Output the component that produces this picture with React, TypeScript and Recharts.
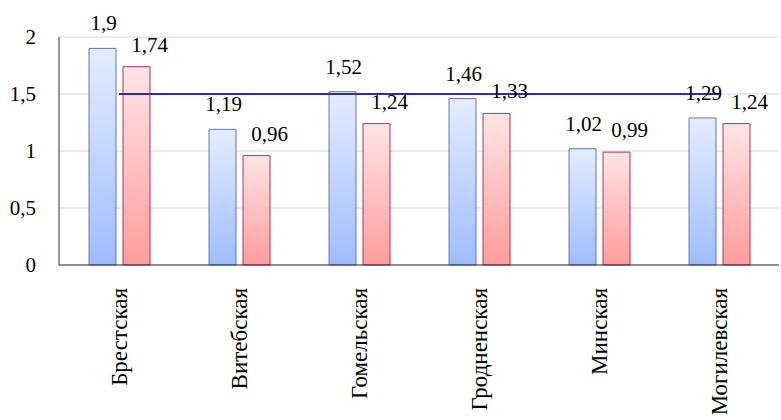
import React from 'react';
import { ComposedChart, Bar, Line, XAxis, YAxis, CartesianGrid, LabelList } from 'recharts';

const regions = ['Брестская', 'Витебская', 'Гомельская', 'Гродненская', 'Минская', 'Могилевская'];
const first = [1.9, 1.19, 1.52, 1.46, 1.02, 1.29];
const second = [1.74, 0.96, 1.24, 1.33, 0.99, 1.24];
const level = [1.5, 1.5, 1.5, 1.5, 1.5, 1.5];
const yTicks = [0, 0.5, 1, 1.5, 2];

const data = regions.map((name, i) => ({ name, a: first[i], b: second[i], level: level[i] }));

const font = 'Liberation Serif';
const fmt = (v: number) => String(v).replace('.', ',');

// some style sheet keeps overriding the font, so force it inline
const serif = (el: SVGTextElement | null) => {
  if (el) el.style.setProperty('font-family', "'Liberation Serif', serif", 'important');
};

const CategoryTick = ({ x, y, payload }: any) => (
  <text
    ref={serif}
    transform={`translate(${x},${y + 23}) rotate(-90)`}
    textAnchor="end"
    dy="0.35em"
    fontFamily={font}
    fontSize={23}
    fill="#000"
  >
    {payload.value}
  </text>
);

const ValueTick = ({ x, y, payload }: any) => (
  <text ref={serif} x={x} y={y} dy="0.35em" textAnchor="end" fontFamily={font} fontSize={21} fill="#000">
    {fmt(payload.value)}
  </text>
);

const labelA = ({ x, y, width, value }: any) => (
  <text ref={serif} x={x + width / 2 + 1} y={y - 18} textAnchor="middle" fontFamily={font} fontSize={21} fill="#000">
    {fmt(value)}
  </text>
);

const labelB = ({ x, y, width, value }: any) => (
  <text ref={serif} x={x + width / 2 + 13} y={y - 15} textAnchor="middle" fontFamily={font} fontSize={21} fill="#000">
    {fmt(value)}
  </text>
);

const App: React.FC = () => {
  return (
    <div style={{ position: 'absolute', left: 0, top: 0, width: 781, height: 420, background: '#fff' }}>
      <ComposedChart
        width={781}
        height={420}
        data={data}
        margin={{ top: 37, right: 2, left: 0, bottom: 0 }}
        barGap={7}
        barSize={27}
      >
        <defs>
          <linearGradient id="gradA" x1="0" y1="0" x2="0" y2="1">
            <stop offset="0%" stopColor="#e4ecff" />
            <stop offset="100%" stopColor="#9ebdff" />
          </linearGradient>
          <linearGradient id="gradB" x1="0" y1="0" x2="0" y2="1">
            <stop offset="0%" stopColor="#ffe4e6" />
            <stop offset="100%" stopColor="#ff9c9c" />
          </linearGradient>
        </defs>
        <CartesianGrid vertical={false} stroke="#d6d6d6" />
        <XAxis
          dataKey="name"
          interval={0}
          tickLine={false}
          tickSize={0}
          tickMargin={0}
          axisLine={{ stroke: '#333' }}
          height={155}
          tick={<CategoryTick />}
        />
        <YAxis
          domain={[0, 2]}
          ticks={yTicks}
          width={59}
          tickLine={false}
          tickSize={0}
          tickMargin={23}
          axisLine={{ stroke: '#333' }}
          tick={<ValueTick />}
        />
        <Bar dataKey="a" fill="url(#gradA)" stroke="#6e74ad" strokeWidth={1} isAnimationActive={false}>
          <LabelList dataKey="a" content={labelA} />
        </Bar>
        <Bar dataKey="b" fill="url(#gradB)" stroke="#a8355e" strokeWidth={1} isAnimationActive={false}>
          <LabelList dataKey="b" content={labelB} />
        </Bar>
        <Line dataKey="level" stroke="#2e3192" strokeWidth={2} dot={false} activeDot={false} isAnimationActive={false} />
      </ComposedChart>
    </div>
  );
};

export default App;
